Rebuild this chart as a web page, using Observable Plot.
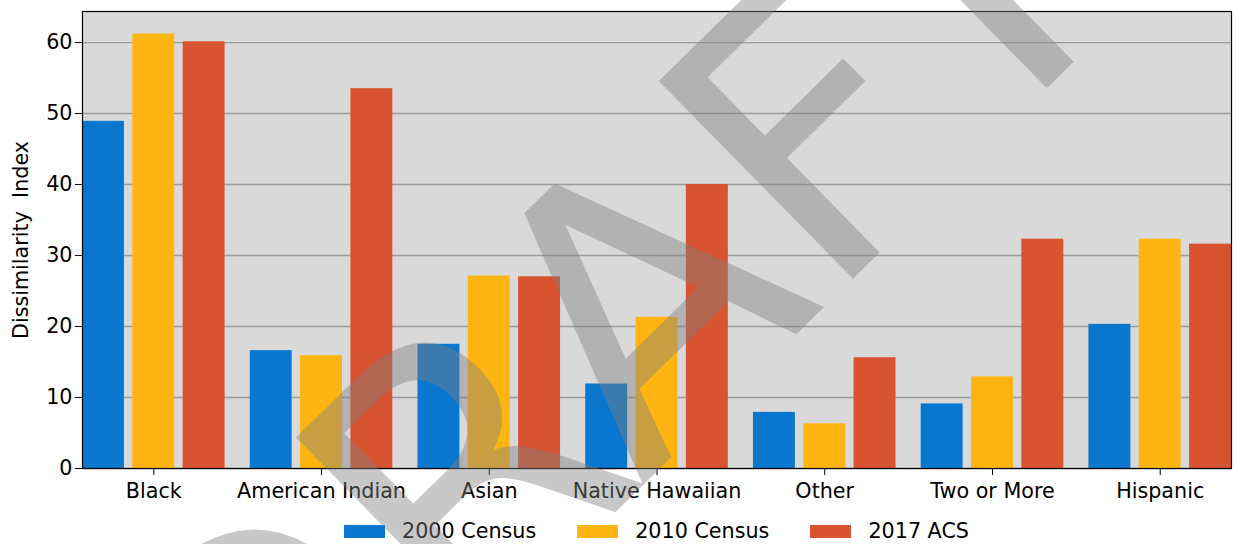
<!DOCTYPE html>
<html>
<head>
<meta charset="utf-8">
<script src="https://cdn.jsdelivr.net/npm/d3@7"></script>
<script src="https://cdn.jsdelivr.net/npm/@observablehq/plot@0.6"></script>
<style>
html, body { margin: 0; padding: 0; background: #fff; overflow: hidden; width: 1236px; height: 544px; }
#wrap { position: relative; width: 1236px; height: 544px; }
#legend { box-sizing: border-box; padding-left: 82px; padding-top: 9px; width: 1236px; padding-right: 5px; }
#legend .lg-swatches { margin: 0 !important; font: 20.7px "DejaVu Sans", sans-serif !important; color: #000 !important; }
#legend .lg-swatches-wrap { justify-content: center; min-height: 0 !important; }
#legend .lg-swatches-wrap .lg-swatch { margin-right: 41px !important; }
#legend .lg-swatches-wrap .lg-swatch:last-child { margin-right: 0 !important; }
#legend .lg-swatch > svg { margin-right: 17px !important; }
#wm { position: absolute; left: 0; top: 0; pointer-events: none; }
</style>
</head>
<body>
<div id="wrap"><div id="chart"></div><div id="legend"></div></div>
<script>
// ---- data ----
const categories = ["Black", "American Indian", "Asian", "Native Hawaiian", "Other", "Two or More", "Hispanic"];
const series = ["2000 Census", "2010 Census", "2017 ACS"];
const census2000 = [48.9, 16.6, 17.5, 11.9, 7.9, 9.1, 20.3];
const census2010 = [61.2, 15.9, 27.1, 21.3, 6.3, 12.9, 32.3];
const acs2017   = [60.1, 53.5, 27.0, 40.0, 15.6, 32.3, 31.6];
const yTicks = [0, 10, 20, 30, 40, 50, 60];
const yLabel = "Dissimilarity  Index";
const watermark = "DRAFT";

// ---- styles / layout ----
const colors = ["#0a77cf", "#feb512", "#d8532f"];
const groupOffset = [-0.3, 0, 0.3];
const barWidth = 0.25;

const seriesValues = [census2000, census2010, acs2017];
const rows = [];
series.forEach((s, k) => categories.forEach((c, i) =>
  rows.push({category: c, index: i, series: s, k, value: seriesValues[k][i]})));

const chart = Plot.plot({
  width: 1236, height: 510,
  marginLeft: 82, marginRight: 5, marginTop: 11, marginBottom: 42,
  style: {fontFamily: "DejaVu Sans", fontSize: "20.7px", color: "#000", background: "#fff"},
  x: {domain: [-0.425, categories.length - 1 + 0.425], label: null},
  y: {domain: [0, 64.37], label: null},
  color: {domain: series, range: colors},
  marks: [
    Plot.frame({fill: "#d9d9d9", stroke: null}),
    Plot.gridY(yTicks, {stroke: "#9c9c9c", strokeOpacity: 1, strokeWidth: 1.3}),
    Plot.rectY(rows, {
      x1: d => d.index + groupOffset[d.k] - barWidth / 2,
      x2: d => d.index + groupOffset[d.k] + barWidth / 2,
      y1: 0, y2: "value", fill: "series"
    }),
    Plot.axisX(categories.map((_, i) => i), {tickFormat: i => categories[i], tickSize: 7, tickPadding: 8, label: null}),
    Plot.axisY(yTicks, {tickSize: 7, tickPadding: 3, label: yLabel, labelAnchor: "center", labelOffset: 69, labelArrow: "none"}),
    Plot.frame({stroke: "#000", strokeWidth: 1.2})
  ]
});
document.getElementById("chart").appendChild(chart);

const legend = Plot.legend({
  color: {type: "ordinal", domain: series, range: colors},
  swatchWidth: 41, swatchHeight: 13, className: "lg"
});
document.getElementById("legend").appendChild(legend);

// watermark overlay
const wm = d3.select("#wrap").append("svg").attr("id", "wm").attr("width", 1236).attr("height", 544);
wm.append("text")
  .attr("transform", "translate(699,430) rotate(-44.5)")
  .attr("text-anchor", "middle")
  .style("font", '380px "DejaVu Sans"')
  .attr("fill", "#808080").attr("fill-opacity", 0.43)
  .text(watermark);
</script>
</body>
</html>
